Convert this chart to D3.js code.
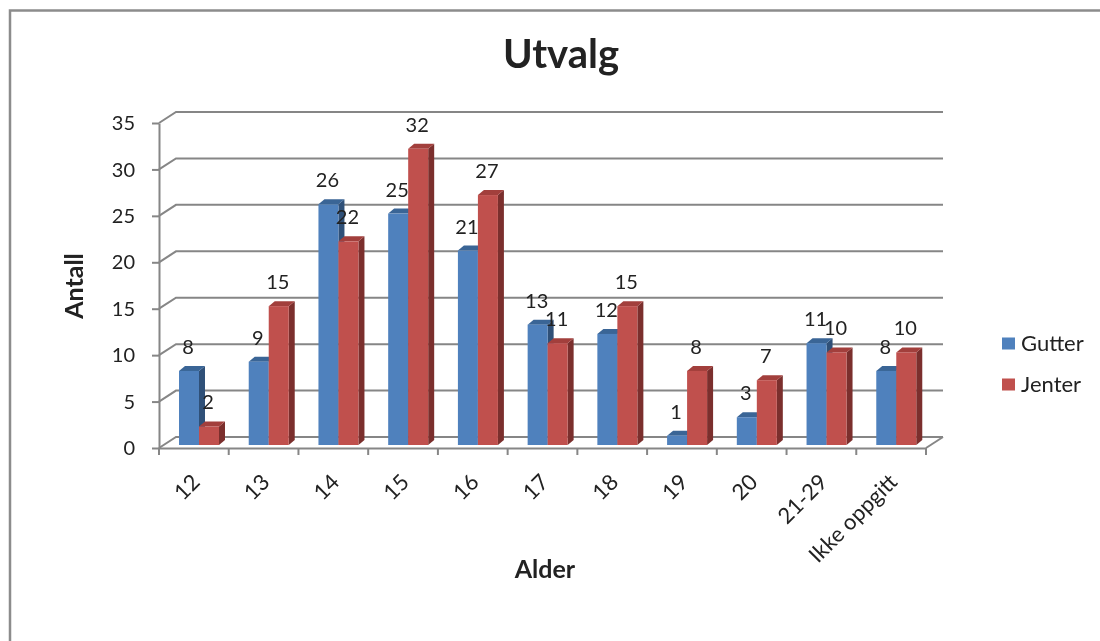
<!DOCTYPE html>
<html>
<head>
<meta charset="utf-8">
<script src="https://cdn.jsdelivr.net/npm/d3@7"></script>
<style>
	html, body { margin: 0; padding: 0; background: #fff; }
	svg { display: block; filter: blur(0.4px); }
	text { font-family: Lato, "Open Sans", sans-serif; fill: #222; }
	.axis .domain, .axis line { stroke: #868686; stroke-width: 2; }
</style>
</head>
<body>
<svg id="chart"></svg>
<script>
const categories = ['12', '13', '14', '15', '16', '17', '18', '19', '20', '21-29', 'Ikke oppgitt'];
const gutter = [8, 9, 26, 25, 21, 13, 12, 1, 3, 11, 8];
const jenter = [2, 15, 22, 32, 27, 11, 15, 8, 7, 10, 10];
const seriesNames = ['Gutter', 'Jenter'];
const yTicks = [0, 5, 10, 15, 20, 25, 30, 35];

const width = 1100;
const height = 641;
const depth = { x: 17, y: 11 }; // offset front axis -> back wall
const barDepth = { x: 6, y: 5 };
const colors = {
	Gutter: { front: '#4f81bd', top: '#3a6596', side: '#2f5078' },
	Jenter: { front: '#c0504d', top: '#a23f3c', side: '#7b2f2d' },
};

const svg = d3.select('#chart').attr('width', width).attr('height', height);

const x = d3.scaleBand().domain(categories).range([159, 926]);
const xInner = d3.scaleBand().domain(seriesNames).range([20, 60]);
const y = d3.scaleLinear().domain([0, 35]).range([448, 123]);
// bars stand a little behind the front edge of the floor
const yBar = d3.scaleLinear().domain([0, 35]).range([445, 121]);

// Outer frame
svg.append('path')
	.attr('d', `M10,${height}V10.5H${width}`)
	.attr('fill', 'none')
	.attr('stroke', '#8c8c8c')
	.attr('stroke-width', 2.5);

// Back wall gridlines and their diagonals
const wall = svg.append('g').attr('fill', 'none').attr('stroke', '#868686').attr('stroke-width', 2);
wall.selectAll('.grid')
	.data(yTicks)
	.join('path')
	.attr('class', 'grid')
	.attr('d', (d) => `M159,${y(d)}L${159 + depth.x},${y(d) - depth.y}H${926 + depth.x}`);
// floor right edge
wall.append('path').attr('d', `M926,${y(0)}L${926 + depth.x},${y(0) - depth.y}`);

// Axes
const yAxis = d3.axisLeft(y).tickValues(yTicks).tickSize(7).tickSizeOuter(0).tickPadding(17);
const xAxis = d3.axisBottom(x).tickSize(0).tickSizeOuter(0).tickFormat('');

svg.append('g').attr('class', 'axis').attr('transform', 'translate(159,0)').call(yAxis)
	.selectAll('text').attr('font-size', 20).attr('dy', '0.33em').attr('fill', '#222');

const xAxisG = svg.append('g').attr('class', 'axis').attr('transform', `translate(0,${y(0)})`).call(xAxis);

// tick marks sit on the band edges, not the centres
xAxisG.selectAll('.edge')
	.data(categories.concat(['end']))
	.join('line')
	.attr('class', 'edge')
	.attr('x1', (d, i) => 159 + i * x.step())
	.attr('x2', (d, i) => 159 + i * x.step())
	.attr('y1', 0)
	.attr('y2', 7);

// Category labels rotated 45 deg, ending under the band centre
svg.selectAll('.cat-label')
	.data(categories)
	.join('text')
	.attr('class', 'cat-label')
	.attr('text-anchor', 'end')
	.attr('font-size', 22)
	.attr('transform', (d) => `translate(${x(d) + x.bandwidth() / 2 + 2},478) rotate(-45)`)
	.attr('dy', '0.35em')
	.text((d) => d);

// Bars
const rows = categories.flatMap((c, i) => [
	{ cat: c, name: 'Gutter', value: gutter[i] },
	{ cat: c, name: 'Jenter', value: jenter[i] },
]);

const bars = svg.selectAll('.bar').data(rows).join('g').attr('class', 'bar');

const barTop = (d) => yBar(d.value);
const barLeft = (d) => x(d.cat) + xInner(d.name);
const barW = xInner.bandwidth();
const barBase = yBar(0);

bars.append('path')
	.attr('fill', (d) => colors[d.name].side)
	.attr('d', (d) => {
		const r = barLeft(d) + barW;
		return `M${r},${barTop(d)}l${barDepth.x},${-barDepth.y}V${barBase - barDepth.y}L${r},${barBase}Z`;
	});
bars.append('path')
	.attr('fill', (d) => colors[d.name].top)
	.attr('d', (d) => `M${barLeft(d)},${barTop(d)}l${barDepth.x},${-barDepth.y}h${barW}l${-barDepth.x},${barDepth.y}Z`);
bars.append('rect')
	.attr('fill', (d) => colors[d.name].front)
	.attr('x', barLeft)
	.attr('y', barTop)
	.attr('width', barW)
	.attr('height', (d) => barBase - barTop(d));

// Data labels on top of everything
svg.selectAll('.value-label')
	.data(rows)
	.join('text')
	.attr('class', 'value-label')
	.attr('text-anchor', 'middle')
	.attr('font-size', 20)
	.attr('x', (d) => barLeft(d) + barW / 2 - 1)
	.attr('y', (d) => barTop(d) - 17)
	.text((d) => d.value);

// Titles
svg.append('text')
	.attr('x', 561).attr('y', 68)
	.attr('text-anchor', 'middle')
	.attr('font-size', 40).attr('font-weight', 700).attr('fill', '#111')
	.text('Utvalg');

svg.append('text')
	.attr('transform', 'translate(83,286) rotate(-90)')
	.attr('text-anchor', 'middle')
	.attr('font-size', 25).attr('font-weight', 700).attr('fill', '#111')
	.text('Antall');

svg.append('text')
	.attr('x', 545).attr('y', 578)
	.attr('text-anchor', 'middle')
	.attr('font-size', 25).attr('font-weight', 700).attr('fill', '#111')
	.text('Alder');

// Legend
const legendY = d3.scalePoint().domain(seriesNames).range([343.5, 384.5]);
const legend = svg.selectAll('.legend').data(seriesNames).join('g').attr('class', 'legend')
	.attr('transform', (d) => `translate(1002,${legendY(d)})`);
legend.append('rect')
	.attr('y', -6).attr('width', 13).attr('height', 12)
	.attr('fill', (d) => colors[d].front);
legend.append('text')
	.attr('x', 19).attr('y', 7)
	.attr('font-size', 22)
	.text((d) => d);
</script>
</body>
</html>
